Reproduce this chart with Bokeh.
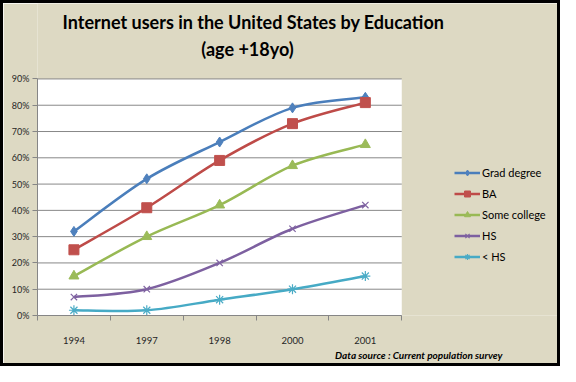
import numpy as np
from bokeh.plotting import figure
from bokeh.models import FixedTicker, Legend, LegendItem, Title, Label, Range1d
from bokeh.embed import file_html
from bokeh.resources import INLINE

# ---- data ----
years = ["1994", "1997", "1998", "2000", "2001"]
grad_degree = [32, 52, 66, 79, 83]
ba = [25, 41, 59, 73, 81]
some_college = [15, 30, 42, 57, 65]
hs = [7, 10, 20, 33, 42]
less_hs = [2, 2, 6, 10, 15]
series_names = ["Grad degree", "BA", "Some college", "HS", "< HS"]
y_ticks = [0, 10, 20, 30, 40, 50, 60, 70, 80, 90]

series_values = [grad_degree, ba, some_college, hs, less_hs]
line_colors = ["#4A7EBB", "#BE4B48", "#98B954", "#7D60A0", "#46AAC5"]
marker_fill = ["#4F81BD", "#C0504D", "#9BBB59", "#8064A2", "#4BACC6"]
markers = ["diamond", "square", "triangle", "x", "asterisk"]
marker_sizes = [10, 10, 10, 9, 10]

FONT = "Lato"
BG = "#DDD9C3"

x_start = -0.5
x_end = len(years) - 0.5
y_max = y_ticks[-1]

# frame extends to the right and top edges so legend and titles live inside it
p = figure(width=560, height=366, x_range=Range1d(x_start, x_end + 2.22),
           y_range=Range1d(0, y_max * 306 / 232),
           output_backend="svg", toolbar_location=None,
           min_border_left=34, min_border_right=0, min_border_top=0, min_border_bottom=54,
           background_fill_color=BG, border_fill_color=BG)
p.styles = {"border": "3px solid black"}
p.outline_line_color = None
p.grid.visible = False

# white plot area and gridlines (bounded to the category span)
p.quad(left=[x_start], right=[x_end], bottom=[0], top=[y_max], fill_color="white", line_color=None)
p.segment(x0=[x_start] * len(y_ticks), x1=[x_end] * len(y_ticks), y0=y_ticks, y1=y_ticks,
          line_color="#888888", line_width=1)

# y axis
p.yaxis.ticker = FixedTicker(ticks=y_ticks)
p.yaxis.bounds = (0, y_max)
p.yaxis.major_label_overrides = {t: f"{t}%" for t in y_ticks}
p.yaxis.axis_line_color = "#868686"
p.yaxis.major_tick_line_color = "#868686"
p.yaxis.major_tick_out = 5
p.yaxis.major_tick_in = 0
p.yaxis.minor_tick_line_color = None
p.yaxis.major_label_standoff = 3
p.yaxis.major_label_text_font = FONT
p.yaxis.major_label_text_font_size = "9px"
p.yaxis.major_label_text_color = "#262626"

# x axis
xs = list(range(len(years)))
p.xaxis.ticker = FixedTicker(ticks=xs, minor_ticks=[i - 0.5 for i in range(len(years) + 1)])
p.xaxis.bounds = (x_start, x_end)
p.xaxis.major_label_overrides = {i: y for i, y in enumerate(years)}
p.xaxis.axis_line_color = "#868686"
p.xaxis.major_tick_line_color = None
p.xaxis.major_tick_out = 0
p.xaxis.major_tick_in = 0
p.xaxis.minor_tick_line_color = "#868686"
p.xaxis.minor_tick_out = 5
p.xaxis.minor_tick_in = 0
p.xaxis.major_label_standoff = 16
p.xaxis.major_label_text_font = FONT
p.xaxis.major_label_text_font_size = "9.5px"
p.xaxis.major_label_text_color = "#262626"


def smooth_segments(x, y):
    x = np.asarray(x, dtype=float)
    y = np.asarray(y, dtype=float)
    n = len(x)
    xp = np.concatenate([[x[0]], x, [x[-1]]])
    yp = np.concatenate([[y[0]], y, [y[-1]]])
    x0, y0, x1, y1, cx0, cy0, cx1, cy1 = ([] for _ in range(8))
    for i in range(n - 1):
        a, b, c, d = i, i + 1, i + 2, i + 3
        x0.append(xp[b]); y0.append(yp[b])
        x1.append(xp[c]); y1.append(yp[c])
        cx0.append(xp[b] + (xp[c] - xp[a]) / 6); cy0.append(yp[b] + (yp[c] - yp[a]) / 6)
        cx1.append(xp[c] - (xp[d] - xp[b]) / 6); cy1.append(yp[c] - (yp[d] - yp[b]) / 6)
    return dict(x0=x0, y0=y0, x1=x1, y1=y1, cx0=cx0, cy0=cy0, cx1=cx1, cy1=cy1)


items = []
for name, vals, lc, mf, mk, ms in zip(series_names, series_values, line_colors, marker_fill, markers, marker_sizes):
    seg = smooth_segments(xs, vals)
    p.bezier(line_color=lc, line_width=2.5, **seg)
    # legend-only line (NaN data: draws nothing in the plot)
    leg_line = p.line(x=[float("nan")], y=[float("nan")], line_color=lc, line_width=2.5)
    if mk in ("x", "asterisk"):
        sc = p.scatter(x=xs, y=vals, marker=mk, size=ms, line_color=mf, line_width=1.2)
    else:
        sc = p.scatter(x=xs, y=vals, marker=mk, size=ms, fill_color=mf, line_color=mf)
    items.append(LegendItem(label=name, renderers=[leg_line, sc]))

legend = Legend(items=items, location=(417, 51), orientation="vertical",
                glyph_width=26, glyph_height=15, label_height=15, spacing=6,
                padding=0, margin=0, border_line_color=None, background_fill_alpha=0,
                label_text_font=FONT, label_text_font_size="11px", label_standoff=2,
                label_text_color="#000000")
p.add_layout(legend)

# titles (inside the frame, above the plot area)
p.add_layout(Label(x=216, y=294, x_units="screen", y_units="screen",
                   text="Internet users in the United States by Education",
                   text_align="center", text_baseline="middle", text_font=FONT,
                   text_font_style="bold", text_font_size="18px", text_color="#000000"))
p.add_layout(Label(x=210, y=267, x_units="screen", y_units="screen",
                   text="(age +18yo)",
                   text_align="center", text_baseline="middle", text_font=FONT,
                   text_font_style="bold", text_font_size="18px", text_color="#000000"))

p.add_layout(Title(text="Data source : Current population survey", align="right",
                   offset=61, standoff=0,
                   text_font=FONT, text_font_style="bold italic", text_font_size="10px",
                   text_color="#000000"), "below")

open("out.html", "w").write(file_html(p, INLINE))
